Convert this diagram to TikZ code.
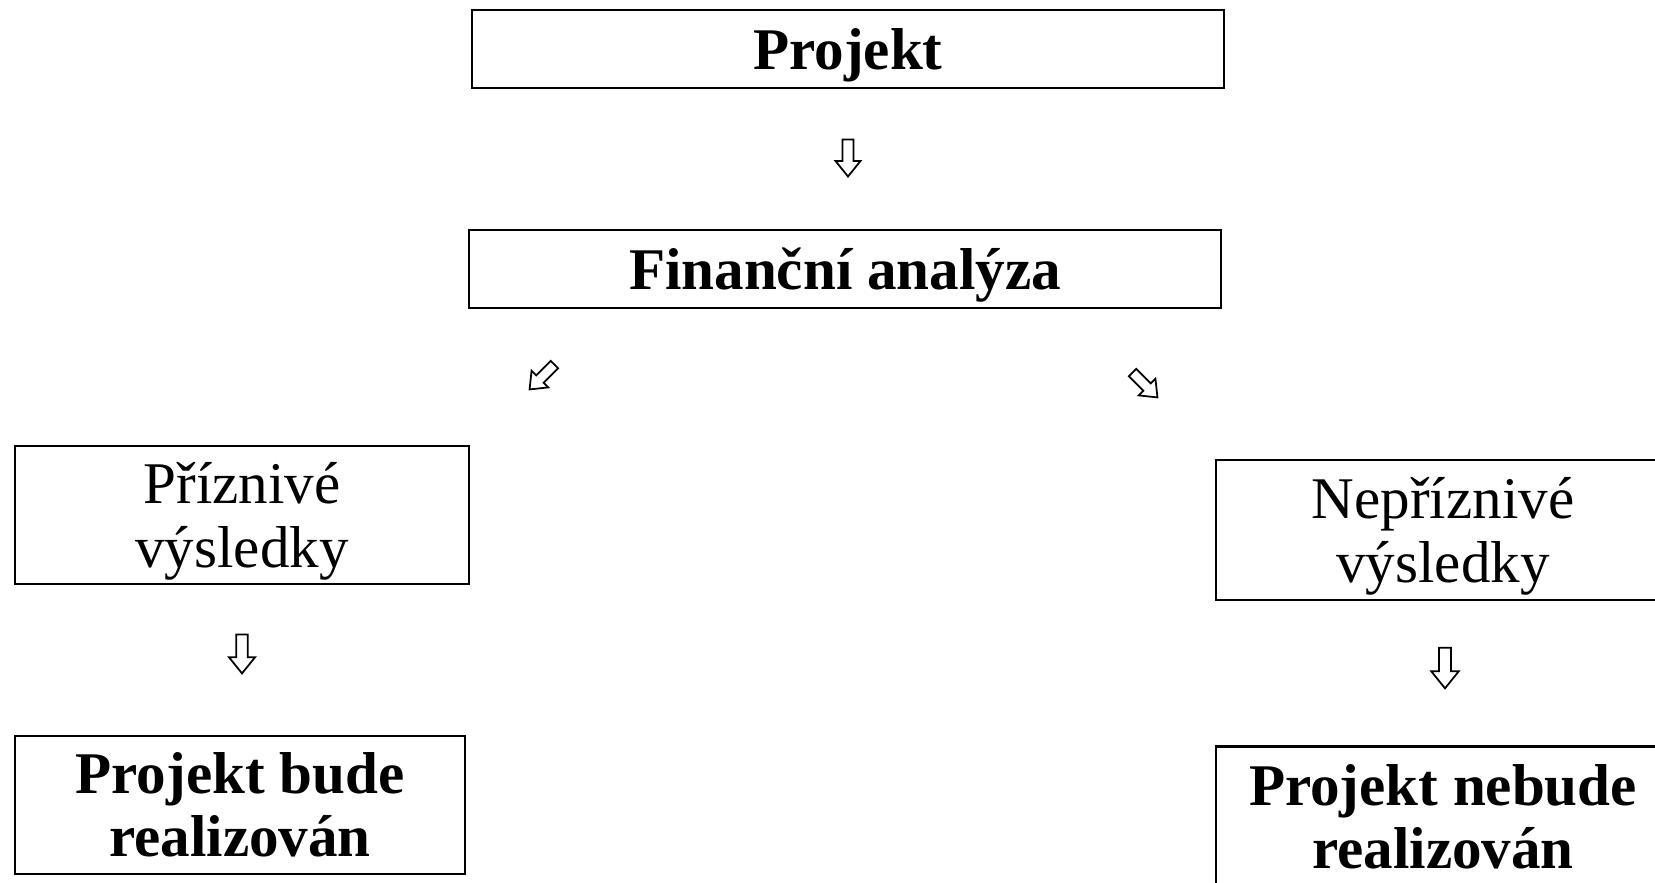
\documentclass[tikz,border=0pt]{standalone}
\usepackage{fontspec}
\setmainfont{Liberation Serif}
\newcommand{\hollowarrow}[3]{%
  \draw[hollow, shift={(#1)}, rotate=#2, scale=#3]
    (-5.5,-18.5) -- (5.5,-18.5) -- (5.5,3) -- (12.5,3) -- (0,18.5)
    -- (-12.5,3) -- (-5.5,3) -- cycle;}
\begin{document}
\begin{tikzpicture}[x=0.01cm,y=-0.01cm,
  box/.style={draw, line width=0.6pt, inner sep=0pt, align=center,
    font=\fontsize{16.8pt}{18pt}\selectfont},
  boldbox/.style={box, font=\fontsize{16.8pt}{18pt}\selectfont\bfseries},
  hollow/.style={draw, line width=0.5pt, line join=miter}]
\useasboundingbox (0,0) rectangle (1655,883);
\clip (0,0) rectangle (1655,883);

\node[boldbox, text depth=0pt, minimum width=7.52cm, minimum height=0.78cm] (proj) at (848,49) {Projekt};
\node[boldbox, text depth=0pt, minimum width=7.52cm, minimum height=0.78cm] (fin) at (845,269) {Finanční analýza};
\node[box, text depth=0pt, minimum width=4.54cm, minimum height=1.38cm] (priz) at (242,515) {Příznivé\\výsledky};
\node[boldbox, minimum width=4.50cm, minimum height=1.38cm] (real) at (240,805) {Projekt bude\\realizován};
\node[box, text depth=0pt, minimum width=4.53cm, minimum height=1.40cm] (nepriz) at (1443,530) {Nepříznivé\\výsledky};
\node[boldbox, minimum width=4.53cm, minimum height=1.41cm] (nereal) at (1443,817) {Projekt nebude\\realizován};

\coordinate (a1) at (848,158);
\coordinate (a2) at (542,377);
\coordinate (a3) at (1145,385);
\coordinate (a4) at (242,654);
\coordinate (a5) at (1445,668);

\hollowarrow{a1}{0}{1}
\hollowarrow{a2}{-45}{0.95}
\hollowarrow{a3}{45}{0.95}
\hollowarrow{a4}{0}{1.05}
\hollowarrow{a5}{0}{1.1}
\end{tikzpicture}
\end{document}
